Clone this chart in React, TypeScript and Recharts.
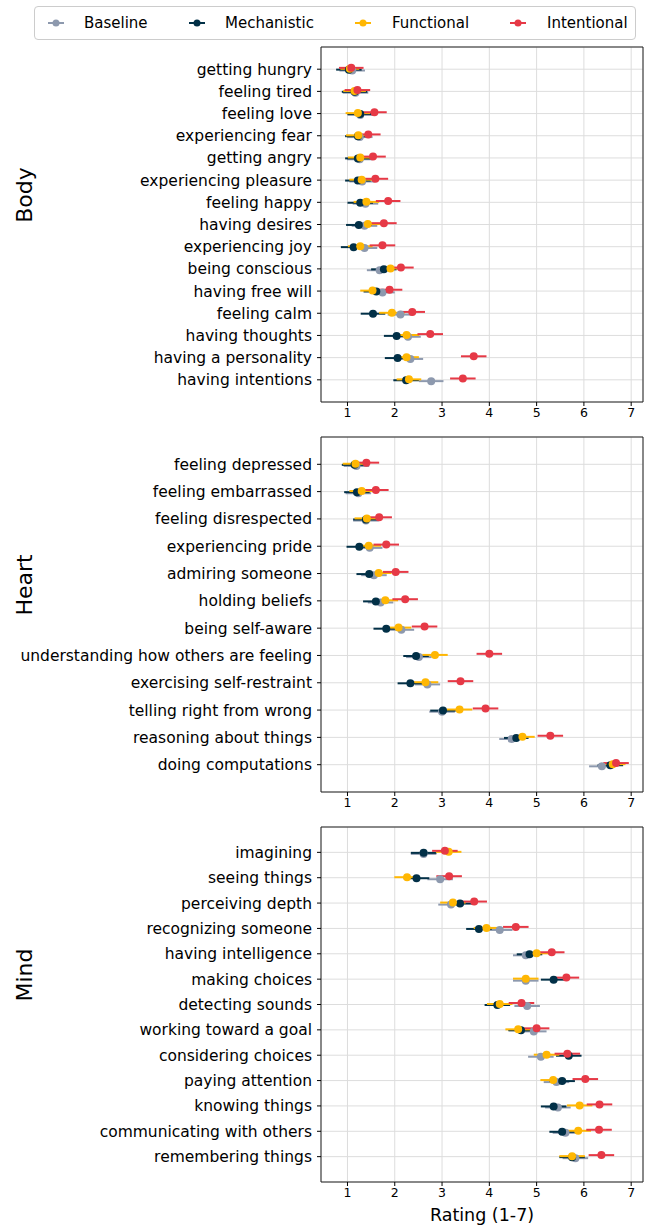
import React from "react";
import {
  ScatterChart,
  Scatter,
  XAxis,
  YAxis,
  CartesianGrid,
  ErrorBar,
  ReferenceArea,
} from "recharts";

const FONT = "'DejaVu Sans', Verdana, sans-serif";

const bodyLabels = [
  "getting hungry",
  "feeling tired",
  "feeling love",
  "experiencing fear",
  "getting angry",
  "experiencing pleasure",
  "feeling happy",
  "having desires",
  "experiencing joy",
  "being conscious",
  "having free will",
  "feeling calm",
  "having thoughts",
  "having a personality",
  "having intentions",
];
const bodyBaseline = [1.1, 1.17, 1.27, 1.26, 1.26, 1.31, 1.38, 1.36, 1.36, 1.68, 1.74, 2.12, 2.28, 2.33, 2.77];
const bodyMechanistic = [1.03, 1.15, 1.27, 1.22, 1.22, 1.22, 1.27, 1.24, 1.13, 1.77, 1.61, 1.54, 2.04, 2.06, 2.24];
const bodyFunctional = [1.05, 1.15, 1.22, 1.23, 1.27, 1.3, 1.4, 1.43, 1.27, 1.91, 1.53, 1.94, 2.25, 2.25, 2.3];
const bodyIntentional = [1.08, 1.21, 1.57, 1.44, 1.54, 1.59, 1.86, 1.77, 1.74, 2.13, 1.89, 2.37, 2.75, 3.67, 3.44];
const bodyBaselineErr = [0.27, 0.27, 0.27, 0.27, 0.27, 0.27, 0.27, 0.27, 0.27, 0.27, 0.26, 0.27, 0.27, 0.27, 0.26];
const bodyMechanisticErr = [0.27, 0.27, 0.27, 0.27, 0.27, 0.27, 0.27, 0.27, 0.27, 0.27, 0.27, 0.26, 0.27, 0.27, 0.27];
const bodyFunctionalErr = [0.2, 0.24, 0.26, 0.26, 0.26, 0.26, 0.27, 0.27, 0.26, 0.27, 0.26, 0.27, 0.27, 0.26, 0.26];
const bodyIntentionalErr = [0.26, 0.27, 0.26, 0.26, 0.27, 0.27, 0.26, 0.27, 0.27, 0.27, 0.27, 0.27, 0.27, 0.27, 0.27];

const heartLabels = [
  "feeling depressed",
  "feeling embarrassed",
  "feeling disrespected",
  "experiencing pride",
  "admiring someone",
  "holding beliefs",
  "being self-aware",
  "understanding how others are feeling",
  "exercising self-restraint",
  "telling right from wrong",
  "reasoning about things",
  "doing computations",
];
const heartBaseline = [1.19, 1.23, 1.39, 1.47, 1.56, 1.7, 2.14, 2.51, 2.69, 3.0, 4.47, 6.38];
const heartMechanistic = [1.15, 1.2, 1.39, 1.25, 1.46, 1.6, 1.82, 2.45, 2.33, 3.02, 4.57, 6.56];
const heartFunctional = [1.17, 1.3, 1.41, 1.45, 1.66, 1.8, 2.08, 2.85, 2.65, 3.37, 4.7, 6.61];
const heartIntentional = [1.4, 1.6, 1.67, 1.82, 2.02, 2.22, 2.63, 4.0, 3.39, 3.92, 5.29, 6.68];
const heartBaselineErr = [0.27, 0.27, 0.27, 0.27, 0.27, 0.27, 0.27, 0.27, 0.27, 0.27, 0.26, 0.27];
const heartMechanisticErr = [0.27, 0.27, 0.27, 0.27, 0.27, 0.27, 0.27, 0.27, 0.27, 0.27, 0.26, 0.27];
const heartFunctionalErr = [0.27, 0.26, 0.26, 0.26, 0.27, 0.27, 0.27, 0.27, 0.27, 0.27, 0.26, 0.27];
const heartIntentionalErr = [0.27, 0.27, 0.27, 0.27, 0.27, 0.27, 0.27, 0.27, 0.27, 0.27, 0.27, 0.27];

const mindLabels = [
  "imagining",
  "seeing things",
  "perceiving depth",
  "recognizing someone",
  "having intelligence",
  "making choices",
  "detecting sounds",
  "working toward a goal",
  "considering choices",
  "paying attention",
  "knowing things",
  "communicating with others",
  "remembering things",
];
const mindBaseline = [2.61, 2.96, 3.19, 4.22, 4.77, 4.77, 4.8, 4.94, 5.09, 5.42, 5.45, 5.61, 5.82];
const mindMechanistic = [2.61, 2.46, 3.38, 3.78, 4.85, 5.36, 4.17, 4.67, 5.68, 5.54, 5.36, 5.54, 5.75];
const mindFunctional = [3.14, 2.26, 3.23, 3.94, 5.0, 4.77, 4.22, 4.61, 5.21, 5.35, 5.91, 5.88, 5.75];
const mindIntentional = [3.06, 3.15, 3.68, 4.56, 5.32, 5.63, 4.68, 5.0, 5.65, 6.03, 6.33, 6.32, 6.37];
const mindBaselineErr = [0.27, 0.27, 0.27, 0.27, 0.27, 0.27, 0.27, 0.27, 0.27, 0.27, 0.27, 0.27, 0.27];
const mindMechanisticErr = [0.27, 0.27, 0.27, 0.27, 0.27, 0.27, 0.27, 0.27, 0.27, 0.27, 0.27, 0.27, 0.27];
const mindFunctionalErr = [0.27, 0.27, 0.27, 0.27, 0.27, 0.27, 0.27, 0.27, 0.27, 0.27, 0.27, 0.27, 0.27];
const mindIntentionalErr = [0.27, 0.27, 0.27, 0.27, 0.27, 0.27, 0.27, 0.27, 0.27, 0.27, 0.27, 0.27, 0.27];

const xTicks = [1, 2, 3, 4, 5, 6, 7];
const X_DOMAIN: [number, number] = [0.44, 7.25];

const SERIES = [
  { name: "Baseline", color: "#8D99AE", offset: 0.06 },
  { name: "Mechanistic", color: "#023047", offset: 0.02 },
  { name: "Functional", color: "#FFB703", offset: -0.02 },
  { name: "Intentional", color: "#E63946", offset: -0.06 },
];

const dot = (color: string) => (props: any) => (
  <circle cx={props.cx} cy={props.cy} r={4} fill={color} />
);

interface PanelProps {
  title: string;
  labels: string[];
  values: number[][];
  errors: number[][];
  top: number;
  titleY: number;
}

function Panel({ title, labels, values, errors, top, titleY }: PanelProps) {
  const n = labels.length;
  const idx = labels.map((_, i) => i);
  return (
    <>
      <div style={{ position: "absolute", left: 0, top }}>
        <ScatterChart
          width={649}
          height={430}
          margin={{ top: 47, right: 6, bottom: 0, left: 0 }}
        >
          <CartesianGrid stroke="#dddddd" strokeWidth={1} />
          <XAxis
            type="number"
            dataKey="x"
            domain={X_DOMAIN}
            ticks={xTicks}
            allowDataOverflow
            height={28}
            axisLine={false}
            tickLine={{ stroke: "#000" }}
            tickSize={4}
            tickMargin={2}
            tick={{ fontSize: 12.5, fill: "#000", fontFamily: FONT }}
          />
          <YAxis
            type="number"
            dataKey="y"
            domain={[-1, n]}
            reversed
            ticks={idx}
            interval={0}
            allowDataOverflow
            width={321}
            axisLine={false}
            tickLine={{ stroke: "#000" }}
            tickSize={4}
            tickMargin={5}
            tickFormatter={(v: number) => labels[v] ?? ""}
            tick={{ fontSize: 15.5, fill: "#000", fontFamily: FONT }}
          />
          <ReferenceArea
            x1={X_DOMAIN[0]}
            x2={X_DOMAIN[1]}
            y1={-1}
            y2={n}
            fill="none"
            stroke="#222"
            strokeWidth={1}
          />
          {SERIES.map((s, si) => (
            <Scatter
              key={s.name}
              name={s.name}
              data={labels.map((_, i) => ({
                x: values[si][i],
                y: i + s.offset,
                err: errors[si][i],
              }))}
              shape={dot(s.color)}
              isAnimationActive={false}
            >
              <ErrorBar
                dataKey="err"
                direction="x"
                width={0}
                stroke={s.color}
                strokeWidth={2}
                isAnimationActive={false}
              />
            </Scatter>
          ))}
        </ScatterChart>
      </div>
      <div
        style={{
          position: "absolute",
          left: 24,
          top: titleY,
          transform: "translate(-50%, -50%) rotate(-90deg)",
          fontSize: 22,
          fontFamily: FONT,
          whiteSpace: "nowrap",
        }}
      >
        {title}
      </div>
    </>
  );
}

function LegendBox() {
  const items = [
    { marker: 55, text: 84 },
    { marker: 196, text: 225 },
    { marker: 362, text: 392 },
    { marker: 517, text: 547 },
  ];
  return (
    <div
      style={{
        position: "absolute",
        left: 34,
        top: 6,
        width: 600,
        height: 32,
        border: "1px solid #cccccc",
        borderRadius: 4,
        background: "#fff",
      }}
    >
      {SERIES.map((s, i) => (
        <React.Fragment key={s.name}>
          <svg
            width={20}
            height={10}
            style={{ position: "absolute", left: items[i].marker - 34 - 10, top: 11 }}
          >
            <line x1={2} y1={5} x2={18} y2={5} stroke={s.color} strokeWidth={2} />
            <circle cx={10} cy={5} r={3.5} fill={s.color} />
          </svg>
          <span
            style={{
              position: "absolute",
              left: items[i].text - 35,
              top: 6,
              fontSize: 15,
              fontFamily: FONT,
              lineHeight: "20px",
              whiteSpace: "nowrap",
            }}
          >
            {s.name}
          </span>
        </React.Fragment>
      ))}
    </div>
  );
}

export default function App() {
  return (
    <div
      style={{
        position: "absolute",
        left: 0,
        top: 0,
        width: 649,
        height: 1226,
        background: "#fff",
        overflow: "hidden",
      }}
    >
      <LegendBox />
      <Panel
        title="Body"
        labels={bodyLabels}
        values={[bodyBaseline, bodyMechanistic, bodyFunctional, bodyIntentional]}
        errors={[bodyBaselineErr, bodyMechanisticErr, bodyFunctionalErr, bodyIntentionalErr]}
        top={0}
        titleY={195}
      />
      <Panel
        title="Heart"
        labels={heartLabels}
        values={[heartBaseline, heartMechanistic, heartFunctional, heartIntentional]}
        errors={[heartBaselineErr, heartMechanisticErr, heartFunctionalErr, heartIntentionalErr]}
        top={390}
        titleY={585}
      />
      <Panel
        title="Mind"
        labels={mindLabels}
        values={[mindBaseline, mindMechanistic, mindFunctional, mindIntentional]}
        errors={[mindBaselineErr, mindMechanisticErr, mindFunctionalErr, mindIntentionalErr]}
        top={780}
        titleY={975}
      />
      <div
        style={{
          position: "absolute",
          left: 482,
          top: 1215,
          transform: "translate(-50%, -50%)",
          fontSize: 17.5,
          fontFamily: FONT,
          whiteSpace: "nowrap",
        }}
      >
        Rating (1-7)
      </div>
    </div>
  );
}
